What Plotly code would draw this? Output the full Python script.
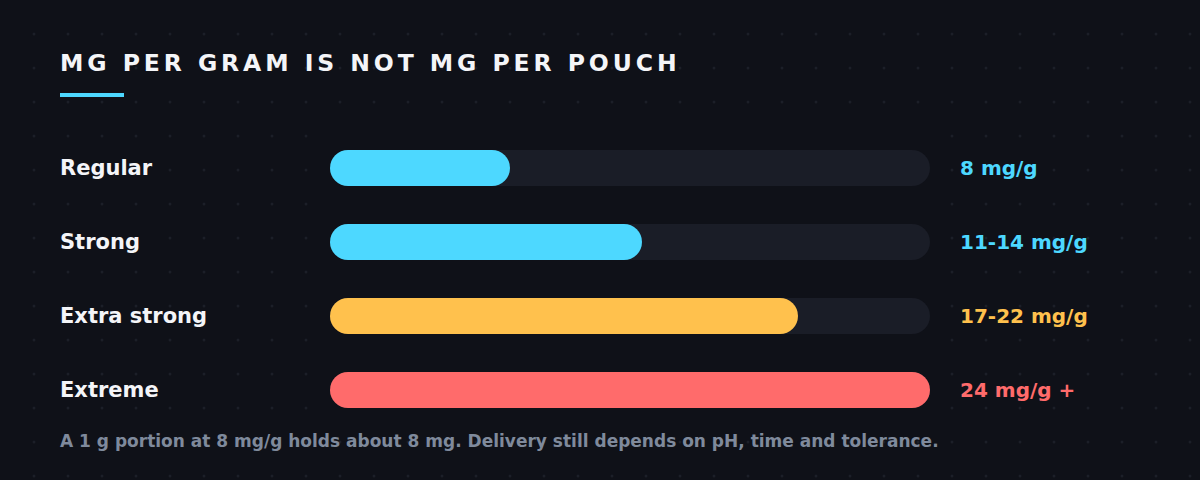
import plotly.graph_objects as go

# Chart data
categories = ['Regular', 'Strong', 'Extra strong', 'Extreme']
fill_pct = [30, 52, 78, 100]          # bar length, % of track
track_pct = [100, 100, 100, 100]
value_labels = ['8 mg/g', '11-14 mg/g', '17-22 mg/g', '24 mg/g +']
bar_colors = ['#4dd8ff', '#4dd8ff', '#ffc14d', '#ff6b6b']

title_text = 'MG PER GRAM IS NOT MG PER POUCH'
footnote = 'A 1 g portion at 8 mg/g holds about 8 mg. Delivery still depends on pH, time and tolerance.'

W, H = 1200, 480
BG = '#0f1118'
TRACK = '#1a1d27'
FONT = 'DejaVu Sans, Noto Sans, sans-serif'

fig = go.Figure()

# faint dot grid in the background (page pixel axes)
dot_x = [34 * i for i in range(1, 36) for j in range(1, 15)]
dot_y = [34 * j for i in range(1, 36) for j in range(1, 15)]
fig.add_trace(go.Scatter(
    x=dot_x, y=dot_y, mode='markers',
    marker=dict(size=3, color='#1c1f28', line=dict(width=0)),
    hoverinfo='skip', showlegend=False,
))

# tracks, then the filled part on top (explicit base -> both ends rounded)
fig.add_trace(go.Bar(
    y=categories, x=track_pct, base=[0] * len(categories), orientation='h',
    marker=dict(color=TRACK, cornerradius='50%', line=dict(width=0)),
    width=36 / 74, xaxis='x2', yaxis='y2', hoverinfo='skip', showlegend=False,
))
fig.add_trace(go.Bar(
    y=categories, x=fill_pct, base=[0] * len(categories), orientation='h',
    marker=dict(color=bar_colors, cornerradius='50%', line=dict(width=0)),
    width=36 / 74, xaxis='x2', yaxis='y2', hoverinfo='skip', showlegend=False,
))

annotations = []
# category names on the left
for cat in categories:
    annotations.append(dict(
        x=58 / W, xref='paper', y=cat, yref='y2', xanchor='left', yanchor='middle',
        text=cat, showarrow=False,
        font=dict(family=FONT, size=21, color='#f4f5f8', weight='bold'),
    ))
# value labels on the right
for cat, lab, col in zip(categories, value_labels, bar_colors):
    annotations.append(dict(
        x=958 / W, xref='paper', y=cat, yref='y2', xanchor='left', yanchor='middle',
        text=lab, showarrow=False,
        font=dict(family=FONT, size=20, color=col, weight='bold'),
    ))
# spaced-out title
spaced = '\u2006'.join(title_text)
annotations.append(dict(
    x=58 / W, xref='paper', y=1 - 63 / H, yref='paper', xanchor='left', yanchor='middle',
    text=spaced, showarrow=False,
    font=dict(family=FONT, size=23.5, color='#f4f5f8', weight='bold'),
))
annotations.append(dict(
    x=58 / W, xref='paper', y=1 - 441 / H, yref='paper', xanchor='left', yanchor='middle',
    text=footnote, showarrow=False,
    font=dict(family=FONT, size=17, color='#7f8a9c', weight='bold'),
))

fig.update_layout(
    width=W, height=H,
    margin=dict(l=0, r=0, t=0, b=0),
    paper_bgcolor=BG, plot_bgcolor=BG,
    barmode='overlay',
    xaxis=dict(domain=[0, 1], range=[0, W], visible=False, fixedrange=True),
    yaxis=dict(domain=[0, 1], range=[H, 0], visible=False, fixedrange=True),
    xaxis2=dict(domain=[330 / W, 930 / W], range=[0, 100], visible=False,
                anchor='y2', fixedrange=True),
    yaxis2=dict(domain=[1 - 427 / H, 1 - 131 / H], range=[3.5, -0.5], visible=False,
                anchor='x2', fixedrange=True, type='category',
                categoryorder='array', categoryarray=categories),
    shapes=[dict(type='rect', xref='paper', yref='paper',
                 x0=60 / W, x1=124 / W, y0=1 - 97 / H, y1=1 - 93 / H,
                 fillcolor='#4dd8ff', line=dict(width=0))],
    annotations=annotations,
)

fig.write_html('out.html', config={'displayModeBar': False},
               post_script="document.body.style.margin='0';document.body.style.background='" + BG + "';")
